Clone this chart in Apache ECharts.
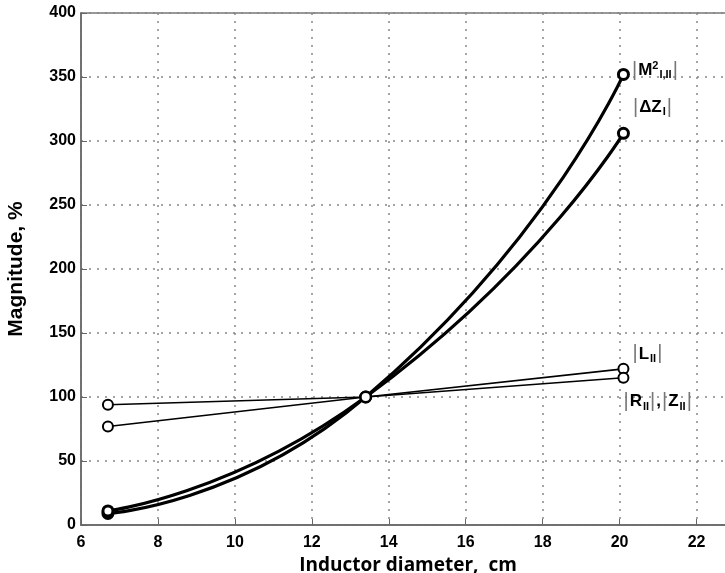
<!DOCTYPE html>
<html lang="en">
<head>
  <meta charset="UTF-8">
  <title>Magnitude vs inductor diameter</title>
  <style>
    html, body { margin: 0; padding: 0; background: #fff; }
  </style>
</head>
<body>
  <div id="main" style="width: 725px; height: 573px"></div>
  <script src="https://cdn.jsdelivr.net/npm/echarts@6/dist/echarts.min.js"></script>
  <script>
    // diameters where the curves were computed
    const diameters = [6.7, 13.4, 20.1]
    // magnitudes in %
    const mutual = [9, 100, 352]     // |M^2 I,II|
    const deltaZ = [11, 100, 306]    // |dZ I|
    const indL = [77, 100, 122]      // |L II|
    const resZ = [94, 100, 115]      // |R II|, |Z II|

    const xTicks = [6, 8, 10, 12, 14, 16, 18, 20, 22]

    const bar = { color: '#777', fontSize: 20, fontFamily: 'Liberation Sans', padding: [0, 1, 0, 1] }
    const big = { color: '#000', fontSize: 17, fontWeight: 'bold', fontFamily: 'Liberation Sans' }
    const sup = { color: '#000', fontSize: 11, fontWeight: 'bold', fontFamily: 'Liberation Sans', padding: [0, 0, 9, 0] }
    const sub = { color: '#000', fontSize: 11, fontWeight: 'bold', fontFamily: 'Liberation Sans', padding: [10, 0, 0, 1] }
    const rich = { bar, big, sup, sub }

    function pts(vals, lastLabel) {
      return vals.map((v, i) => {
        const item = { value: [diameters[i], v] }
        if (i === vals.length - 1 && lastLabel) {
          item.label = Object.assign({ show: true, position: 'right', rich: rich }, lastLabel)
        }
        return item
      })
    }

    const myChart = echarts.init(document.getElementById('main'))

    const thick = { width: 3.2, color: '#000' }
    const thin = { width: 1.6, color: '#000' }

    const option = {
      animation: false,
      grid: {
        left: 81, top: 13, right: -10, bottom: 48,
        outerBoundsMode: 'none', containLabel: false,
        show: true, borderColor: '#777', borderWidth: 1.5
      },
      xAxis: {
        type: 'value',
        min: 6, max: 23, interval: 2,
        name: 'Inductor diameter,  cm',
        nameLocation: 'middle',
        nameGap: 22,
        nameTextStyle: { fontSize: 19, fontWeight: 'bold', fontFamily: 'Open Sans', color: '#000' },
        axisLine: { show: true, lineStyle: { color: '#666', width: 1.5 } },
        axisTick: { show: true, inside: true, length: 6, lineStyle: { color: '#666' } },
        axisLabel: {
          showMaxLabel: false, margin: 10,
          fontSize: 16, fontWeight: 'bold', fontFamily: 'Liberation Sans', color: '#000',
          formatter: v => (xTicks.includes(v) ? String(v) : '')
        },
        splitLine: { show: true, lineStyle: { type: [2, 6], color: '#888', width: 1.5 } }
      },
      yAxis: {
        type: 'value',
        min: 0, max: 400, interval: 50,
        name: 'Magnitude, %',
        nameLocation: 'middle',
        nameGap: 54,
        nameTextStyle: { fontSize: 21, fontWeight: 'bold', fontFamily: 'Liberation Sans', color: '#000' },
        axisLine: { show: true, lineStyle: { color: '#666', width: 1.5 } },
        axisTick: { show: true, inside: true, length: 6, lineStyle: { color: '#666' } },
        axisLabel: { margin: 5, fontSize: 16, fontWeight: 'bold', fontFamily: 'Liberation Sans', color: '#000' },
        splitLine: { show: true, lineStyle: { type: [2, 6], color: '#888', width: 1.5 } }
      },
      series: [
        {
          name: 'M', type: 'line', smooth: 0.6,
          data: pts(mutual, { offset: [-4, -4], formatter: '{bar||}{big|M}{sup|2}{sub|I,II}{bar||}' }),
          lineStyle: thick, symbol: 'circle', symbolSize: 10,
          itemStyle: { color: '#fff', borderColor: '#000', borderWidth: 3 }
        },
        {
          name: 'dZ', type: 'line', smooth: 0.6,
          data: pts(deltaZ, { offset: [-3, -26], formatter: '{bar||}{big|\u0394Z}{sub|I}{bar||}' }),
          lineStyle: thick, symbol: 'circle', symbolSize: 10,
          itemStyle: { color: '#fff', borderColor: '#000', borderWidth: 3 }
        },
        {
          name: 'L', type: 'line',
          data: pts(indL, { offset: [-3, -15], formatter: '{bar||}{big|L}{sub|II}{bar||}' }),
          lineStyle: thin, symbol: 'circle', symbolSize: 10,
          itemStyle: { color: '#fff', borderColor: '#000', borderWidth: 2 }
        },
        {
          name: 'RZ', type: 'line',
          data: pts(resZ, { offset: [-12, 24], formatter: '{bar||}{big|R}{sub|II}{bar||}{big|,}{bar||}{big|Z}{sub|II}{bar||}' }),
          lineStyle: thin, symbol: 'circle', symbolSize: 10,
          itemStyle: { color: '#fff', borderColor: '#000', borderWidth: 2 }
        }
      ]
    }

    myChart.setOption(option)
  </script>
</body>
</html>
